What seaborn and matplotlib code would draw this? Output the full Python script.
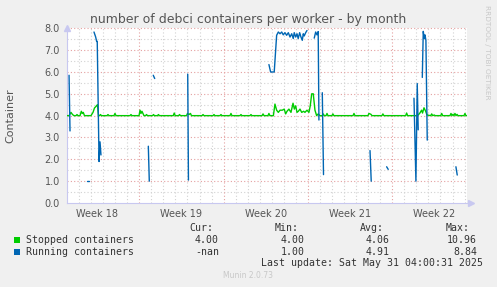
import matplotlib
matplotlib.use("Agg")
import matplotlib.pyplot as plt
import seaborn as sns
import pandas as pd
import numpy as np
from matplotlib.patches import Rectangle

# ---------------- data (x = days from left edge of the graph) ----------------
week_labels = ["Week 18", "Week 19", "Week 20", "Week 21", "Week 22"]
week_label_days = [2.5, 9.5, 16.5, 23.5, 30.5]
week_start_days = [6, 13, 20, 27]

green_days = [0.0, 0.17, 0.33, 0.46, 0.58, 0.75, 0.83, 0.91, 1.08, 1.19, 1.27, 1.35, 1.45,
              1.99, 2.16, 2.28, 2.37, 2.45, 2.53, 2.61, 2.70, 2.78, 2.86, 3.32, 3.40, 3.49,
              3.90, 3.98, 4.07, 5.23, 5.31, 5.39, 5.98, 6.06, 6.14, 6.22, 6.31, 6.39,
              6.52, 6.60, 6.68, 7.10, 7.18, 7.26, 7.51, 7.59, 7.67, 8.82, 8.90, 8.98,
              9.26, 9.34, 9.42, 9.92, 10.0, 10.12, 10.25, 10.33, 11.21, 11.29, 11.37,
              12.12, 12.20, 12.28, 12.70, 12.78, 12.86, 13.53, 13.61, 13.69, 14.36, 14.44,
              14.52, 15.19, 15.27, 15.35, 16.19, 16.27, 16.35, 16.68, 16.76, 16.84,
              17.13, 17.26, 17.40, 17.54, 17.68, 17.87, 18.03, 18.15, 18.26, 18.42,
              18.59, 18.76, 18.87, 18.98, 19.09, 19.20, 19.34, 19.48, 19.64, 19.75,
              19.92, 20.08, 20.19, 20.31, 20.44, 20.58, 20.72, 20.85, 20.99, 21.19,
              21.27, 21.35, 21.50, 21.58, 21.66, 21.99, 22.07, 22.15, 23.74, 23.82,
              23.90, 24.98, 25.06, 25.23, 25.31, 26.14, 26.22, 26.30, 28.11, 28.19,
              28.27, 29.07, 29.15, 29.29, 29.43, 29.51, 29.63, 29.77, 29.88, 30.19,
              30.27, 30.35, 30.48, 30.56, 31.02, 31.10, 31.18, 31.79, 31.87, 31.95,
              32.03, 32.12, 32.20, 32.29, 32.37, 32.45, 32.95, 33.03, 33.11, 33.2]
green_vals = [4.0, 4.0, 4.15, 4.05, 4.0, 4.0, 4.05, 4.0, 4.0, 4.2, 4.1, 4.15, 4.0,
              4.0, 4.15, 4.35, 4.4, 4.45, 4.5, 4.0, 4.0, 4.05, 4.0, 4.0, 4.05, 4.0,
              4.0, 4.1, 4.0, 4.0, 4.05, 4.0, 4.0, 4.25, 4.1, 4.2, 4.1, 4.0,
              4.0, 4.05, 4.0, 4.0, 4.05, 4.0, 4.0, 4.05, 4.0, 4.0, 4.12, 4.0,
              4.0, 4.05, 4.0, 4.0, 4.1, 4.05, 4.1, 4.0, 4.0, 4.05, 4.0,
              4.0, 4.05, 4.0, 4.0, 4.05, 4.0, 4.0, 4.1, 4.0, 4.0, 4.05,
              4.0, 4.0, 4.05, 4.0, 4.0, 4.08, 4.0, 4.0, 4.1, 4.0,
              4.0, 4.53, 4.25, 4.15, 4.25, 4.25, 4.3, 4.08, 4.2, 4.3,
              4.15, 4.57, 4.3, 4.45, 4.15, 4.2, 4.3, 4.15, 4.2, 4.15,
              4.25, 4.15, 4.45, 5.0, 5.0, 4.25, 4.0, 4.08, 4.0, 4.0,
              4.08, 4.0, 4.0, 4.1, 4.0, 4.0, 4.08, 4.0, 4.0, 4.1,
              4.0, 4.0, 4.1, 4.06, 4.0, 4.0, 4.08, 4.0, 4.0, 4.12,
              4.0, 4.0, 4.03, 4.12, 4.25, 4.12, 4.36, 4.2, 4.03, 4.0,
              4.08, 4.0, 4.03, 4.0, 4.0, 4.1, 4.0, 4.0, 4.1, 4.0,
              4.06, 4.0, 4.1, 4.0, 4.06, 4.0, 4.0, 4.1, 4.0, 4.0]

# running containers: separate segments (gaps = no data)
blue_seg = [0, 0, 1, 1, 2, 2, 2, 2, 2, 2, 2, 3, 3, 4, 4, 5, 5,
            6, 6, 6, 6, 6, 6, 6, 6, 6, 6, 6, 6, 6, 6, 6, 6, 6, 6, 6, 6, 6, 6, 6, 6, 6,
            7, 7, 7, 7, 7, 8, 8, 9, 9, 10, 10, 11, 11, 11, 11, 12, 12, 12, 12, 12, 12, 13, 13]
blue_days = [0.17, 0.25, 1.63, 1.83, 2.24, 2.38, 2.46, 2.51, 2.66, 2.74, 2.82, 6.75, 6.83,
             7.16, 7.28, 10.02, 10.08,
             16.76, 16.90, 17.20, 17.40, 17.54, 17.68, 17.82, 17.95, 18.09, 18.23, 18.37,
             18.51, 18.65, 18.78, 18.86, 18.98, 19.09, 19.19, 19.31, 19.42, 19.53, 19.61,
             19.69, 19.81, 19.92,
             20.52, 20.64, 20.75, 20.85, 20.91, 21.19, 21.29, 25.15, 25.25, 26.53, 26.66,
             28.80, 28.96, 29.07, 29.15, 29.49, 29.57, 29.65, 29.71, 29.79, 29.90,
             32.28, 32.39]
blue_vals = [5.85, 3.3, 1.0, 1.0, 7.83, 7.6, 7.4, 7.4, 1.9, 2.8, 2.2, 2.6, 1.0,
             5.85, 5.7, 5.9, 1.05,
             6.34, 6.0, 6.0, 7.68, 7.83, 7.75, 7.83, 7.7, 7.8, 7.68, 7.8,
             7.6, 7.75, 7.53, 7.8, 7.6, 7.75, 7.53, 7.8, 7.6, 7.45, 7.75,
             7.65, 7.8, 7.9,
             7.55, 7.83, 7.7, 7.85, 3.8, 5.05, 1.3, 2.4, 1.0, 1.66, 1.54,
             4.8, 1.0, 5.47, 3.35, 5.75, 7.86, 7.53, 7.7, 7.45, 2.88,
             1.66, 1.28]

legend_names = ["Stopped containers", "Running containers"]
legend_cur = ["4.00", "-nan"]
legend_min = ["4.00", "1.00"]
legend_avg = ["4.06", "4.91"]
legend_max = ["10.96", "8.84"]
colors = ["#00CC00", "#0066B3"]

# ---------------- figure ----------------
sns.set_style("white")
plt.rcParams["font.family"] = ["DejaVu Sans"]
W, H = 497, 287
fig = plt.figure(figsize=(W / 100, H / 100), dpi=100, facecolor="#F0F0F0")
x0, x1, ytop, ybot = 67, 467, 28.3, 203
ax = fig.add_axes([x0 / W, 1 - ybot / H, (x1 - x0) / W, (ybot - ytop) / H])
ax.set_facecolor("white")

XMAX = 33.2
ax.set_xlim(0, XMAX)
ax.set_ylim(0, 8.0)

# grid
for d in range(1, 34):
    if d in week_start_days:
        continue
    ax.axvline(d, color="#D2D2D2", lw=0.8, ls=(0, (1, 2)), zorder=0.5)
for d in week_start_days:
    ax.axvline(d, color="#E4A0A0", lw=0.8, ls=(0, (1, 2)), zorder=0.6)
for v in np.arange(0.5, 8.0, 1.0):
    ax.axhline(v, color="#D2D2D2", lw=0.8, ls=(0, (1, 2)), zorder=0.5)
for v in range(1, 9):
    ax.axhline(v, color="#E4A0A0", lw=0.8, ls=(0, (1, 2)), zorder=0.6, clip_on=False)

df_g = pd.DataFrame({"day": green_days, "val": green_vals})
df_b = pd.DataFrame({"day": blue_days, "val": blue_vals, "seg": blue_seg})
sns.lineplot(data=df_g, x="day", y="val", ax=ax, color=colors[0], lw=1.0,
             estimator=None, sort=False, zorder=3)
sns.lineplot(data=df_b, x="day", y="val", units="seg", ax=ax, color=colors[1], lw=1.0,
             estimator=None, sort=False, zorder=4)

ax.set_xlabel("")
ax.set_ylabel("Container", fontsize=8, color="#555555")
ax.yaxis.set_label_coords(-0.128, 0.5)

ax.set_yticks(np.arange(0, 8.01, 1.0))
ax.set_yticklabels([f"{v:.1f}" for v in np.arange(0, 8.01, 1.0)])
ax.set_xticks(week_label_days)
ax.set_xticklabels(week_labels)
ax.tick_params(axis="y", labelsize=7, colors="#555555", length=2, width=0.6, pad=3,
               color="#C8C8F0")
ax.tick_params(axis="x", labelsize=7, colors="#555555", length=0, pad=4)

for s in ["top", "right"]:
    ax.spines[s].set_visible(False)
for s in ["left", "bottom"]:
    ax.spines[s].set_color("#C8C8F0")
    ax.spines[s].set_linewidth(0.8)

# axis arrows
ax.plot([0], [1.0], marker="^", ms=4, color="#C8C8F0", transform=ax.transAxes, clip_on=False)
ax.plot([1.01], [0], marker=">", ms=4, color="#C8C8F0", transform=ax.transAxes, clip_on=False)

# title
fig.text(248 / W, 1 - 19 / H, "number of debci containers per worker - by month",
         ha="center", va="center", fontsize=9, color="#555555")
fig.text(487 / W, 1 - 5 / H, "RRDTOOL / TOBI OETIKER", rotation=270, ha="center",
         va="top", fontsize=5.3, color="#C8C8C8")

# legend table
mono = "DejaVu Sans Mono"
fs = 7.1
tc = "#333333"
hy = 1 - 228 / H
fig.text(213 / W, hy, "Cur:", ha="right", va="center", family=mono, fontsize=fs, color=tc)
fig.text(299 / W, hy, "Min:", ha="right", va="center", family=mono, fontsize=fs, color=tc)
fig.text(384 / W, hy, "Avg:", ha="right", va="center", family=mono, fontsize=fs, color=tc)
fig.text(470 / W, hy, "Max:", ha="right", va="center", family=mono, fontsize=fs, color=tc)
rows_y = [240, 252]
for i in range(2):
    y = 1 - rows_y[i] / H
    fig.patches.append(Rectangle((14 / W, y - 3 / H), 6 / W, 6 / H, transform=fig.transFigure,
                                 facecolor=colors[i], edgecolor="none"))
    fig.text(26 / W, y, legend_names[i], ha="left", va="center", family=mono, fontsize=fs, color=tc)
    fig.text(219 / W, y, legend_cur[i], ha="right", va="center", family=mono, fontsize=fs, color=tc)
    fig.text(305 / W, y, legend_min[i], ha="right", va="center", family=mono, fontsize=fs, color=tc)
    fig.text(390 / W, y, legend_avg[i], ha="right", va="center", family=mono, fontsize=fs, color=tc)
    fig.text(477 / W, y, legend_max[i], ha="right", va="center", family=mono, fontsize=fs, color=tc)
fig.text(483 / W, 1 - 263.5 / H, "Last update: Sat May 31 04:00:31 2025", ha="right",
         va="center", family=mono, fontsize=fs, color=tc)
fig.text(248 / W, 1 - 276 / H, "Munin 2.0.73", ha="center", va="center", fontsize=5.5,
         color="#C8C8C8")

fig.savefig("out.png", dpi=100, facecolor=fig.get_facecolor())
